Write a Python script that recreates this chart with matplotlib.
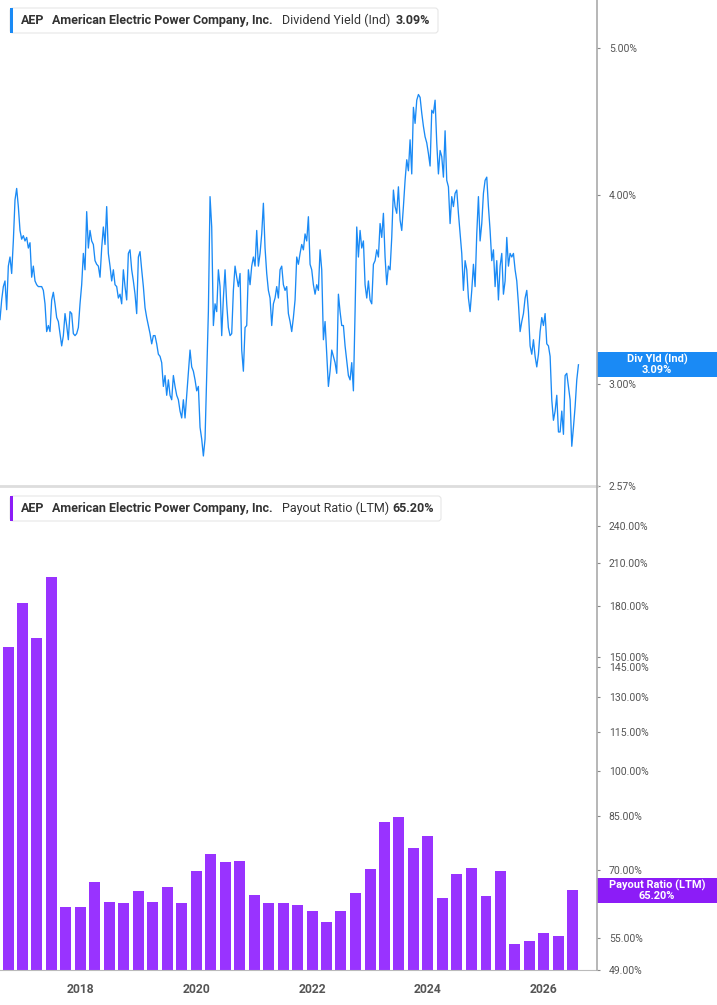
import matplotlib
matplotlib.use('Agg')
import matplotlib.pyplot as plt
from matplotlib import font_manager
from matplotlib.patches import FancyBboxPatch, Rectangle
from matplotlib.lines import Line2D
from matplotlib.ticker import NullLocator
from matplotlib.transforms import IdentityTransform
import numpy as np
import pandas as pd

# dividend yield (%) at roughly 10-day steps
div_yield = [
    3.31, 3.41, 3.48, 3.51, 3.36, 3.59, 3.64, 3.55, 3.73, 3.97,
    4.04, 3.93, 3.79, 3.74, 3.76, 3.73, 3.75, 3.69, 3.72, 3.53,
    3.59, 3.51, 3.49, 3.48, 3.48, 3.48, 3.46, 3.39, 3.25, 3.28,
    3.25, 3.41, 3.45, 3.39, 3.32, 3.30, 3.24, 3.18, 3.23, 3.34,
    3.28, 3.21, 3.35, 3.34, 3.24, 3.23, 3.24, 3.27, 3.39, 3.49,
    3.66, 3.57, 3.90, 3.69, 3.79, 3.73, 3.71, 3.62, 3.60, 3.59,
    3.53, 3.69, 3.81, 3.71, 3.93, 3.66, 3.59, 3.51, 3.57, 3.49,
    3.48, 3.42, 3.44, 3.39, 3.57, 3.48, 3.41, 3.66, 3.68, 3.57,
    3.51, 3.44, 3.34, 3.64, 3.67, 3.57, 3.48, 3.37, 3.32, 3.28,
    3.24, 3.19, 3.23, 3.23, 3.19, 3.14, 3.13, 3.10, 2.99, 3.04,
    2.95, 3.02, 2.95, 2.93, 3.04, 2.99, 2.95, 2.93, 2.88, 2.85,
    2.93, 2.85, 2.95, 3.06, 3.16, 3.08, 3.06, 3.02, 2.97, 2.99,
    2.81,
    2.76, 2.69, 2.76, 3.04, 3.35, 3.99, 3.81, 3.28, 3.39, 3.35,
    3.57, 3.48, 3.23, 3.42, 3.57, 3.39, 3.27, 3.23, 3.24, 3.46,
    3.59, 3.53, 3.48, 3.55, 3.16, 3.06, 3.27, 3.28, 3.57, 3.49,
    3.59, 3.64, 3.59, 3.79, 3.59, 3.66, 3.77, 3.95, 3.69, 3.55,
    3.46, 3.42, 3.28, 3.39, 3.42, 3.48, 3.42, 3.57, 3.59, 3.49,
    3.46, 3.48, 3.34, 3.30, 3.25, 3.32, 3.41, 3.64, 3.60, 3.66,
    3.71, 3.68, 3.77, 3.73, 3.87, 3.60, 3.57, 3.49, 3.44, 3.49,
    3.46, 3.68, 3.57, 3.21, 3.30, 3.14, 2.99, 3.06, 3.16, 3.13,
    3.10, 3.05, 3.44, 3.35, 3.28, 3.28, 3.18, 3.11, 3.04, 3.02,
    3.10, 2.97, 3.35, 3.81, 3.64, 3.79, 3.69, 3.73, 3.49, 3.42,
    3.51, 3.41, 3.39, 3.60, 3.62, 3.68, 3.64, 3.83, 3.75, 3.89,
    3.64, 3.49, 3.59, 3.57,
    3.75, 4.03, 3.93, 3.89, 4.05, 3.85, 3.79, 3.93, 4.09, 4.22,
    4.15, 4.35, 4.13, 4.57, 4.46, 4.62, 4.66, 4.64, 4.53, 4.44,
    4.37, 4.33, 4.26, 4.18, 4.55, 4.53, 4.62, 4.33, 4.13, 4.28,
    4.24, 4.11, 4.41, 4.09, 4.05, 3.83, 3.99, 3.93, 4.01, 4.03,
    3.89, 3.77, 3.66, 3.46, 3.62, 3.57, 3.42, 3.35, 3.46, 3.60,
    3.48, 3.77, 3.99, 3.73, 3.83, 4.01, 4.09, 4.11, 3.93, 3.79,
    3.62, 3.68, 3.48, 3.62, 3.41, 3.59, 3.66, 3.44, 3.51, 3.75,
    3.59, 3.66, 3.64, 3.66, 3.57, 3.51, 3.39, 3.25, 3.30, 3.34,
    3.42, 3.46, 3.35, 3.18, 3.14, 3.21, 3.13, 3.08, 3.14, 3.25,
    3.32, 3.28, 3.34, 3.19, 3.18, 3.13, 2.93, 2.84, 2.88, 2.95,
    2.79, 2.79, 2.88, 2.78, 3.04, 3.05, 2.99, 2.93, 2.73, 2.81,
    2.90, 3.02, 3.09,
]

# quarterly payout ratio (LTM, %)
payout_ratio = [
    155.5, 182.3, 161.0, 199.8, 61.5, 61.4, 67.1, 62.4, 62.3, 64.9,
    62.4, 65.9, 62.2, 69.8, 74.2, 72.1, 72.4, 64.1, 62.3, 62.3,
    61.9, 60.5, 58.2, 60.6, 64.6, 70.4, 83.3, 84.8, 75.8, 79.2,
    63.4, 69.2, 70.6, 63.9, 69.8, 53.7, 54.3, 55.9, 55.3, 65.2,
]

yield_ticks = [2.57, 3.00, 4.00, 5.00]
payout_ticks = [49, 55, 70, 85, 100, 115, 130, 145, 150, 180, 210, 240]
year_ticks = [2018, 2020, 2022, 2024, 2026]

yield_dates = pd.date_range('2016-08-11', '2026-08-07', periods=len(div_yield))
payout_dates = pd.date_range('2016-10-01', periods=len(payout_ratio), freq='QS')

blue = '#1a8af5'
purple = '#9933ff'
purple_dark = '#8c1cf7'
grey_txt = '#555555'

names = {f.name for f in font_manager.fontManager.ttflist}
narrow = 'Liberation Sans Narrow' if 'Liberation Sans Narrow' in names else 'Roboto'
plt.rcParams['font.family'] = ['Roboto', 'DejaVu Sans']

W, H = 717, 1005
fig = plt.figure(figsize=(W / 100, H / 100), dpi=100)


def rect(l, t, r, b):
    return [l / W, 1 - b / H, (r - l) / W, (b - t) / H]


ax1 = fig.add_axes(rect(0, 0, 597, 486))
ax2 = fig.add_axes(rect(0, 490, 597, 970))

xmin, xmax = pd.Timestamp('2016-08-11'), pd.Timestamp('2026-12-02')

# top: dividend yield line
ax1.plot(yield_dates, div_yield, color=blue, lw=0.95)
ax1.set_yscale('log')
ax1.set_ylim(2.57, 5.38)
ax1.set_xlim(xmin, xmax)

# bottom: payout ratio bars
ax2.bar(payout_dates, np.array(payout_ratio) - 49, bottom=49, width=69,
        color=purple, linewidth=0)
ax2.set_yscale('log')
ax2.set_ylim(49, 273)
ax2.set_xlim(xmin, xmax)

for ax, ticks in ((ax1, yield_ticks), (ax2, payout_ticks)):
    ax.yaxis.tick_right()
    ax.yaxis.set_minor_locator(NullLocator())
    ax.set_yticks(ticks)
    ax.set_yticklabels([f'{t:.2f}%' for t in ticks])
    ax.tick_params(axis='y', length=2.5, width=0.8, color='#888888',
                   labelsize=7.5, labelcolor=grey_txt, pad=6)
    for s in ('left', 'top', 'right'):
        ax.spines[s].set_visible(False)
    ax.set_facecolor('none')

ax1.spines['bottom'].set_color('#dddddd')
ax1.spines['bottom'].set_linewidth(2)
ax1.set_xticks([])
ax2.spines['bottom'].set_color('#bbbbbb')
ax2.set_xticks([pd.Timestamp(f'{y}-01-01') for y in year_ticks])
ax2.set_xticklabels([str(y) for y in year_ticks], fontweight='bold')
ax2.tick_params(axis='x', length=0, pad=9, labelsize=8.7, labelcolor=grey_txt)

# vertical axis line across both panels
fig.add_artist(Line2D([597, 597], [H - 970, H], transform=IdentityTransform(),
                      color='#aaaaaa', lw=1.2))

# value boxes on the right
for ax, val, colour, label in ((ax1, div_yield[-1], blue, 'Div Yld (Ind)'),
                               (ax2, payout_ratio[-1], purple_dark, 'Payout Ratio (LTM)')):
    yc = ax.transData.transform((0, val))[1]
    fig.add_artist(Rectangle((597, yc - 12.5), 120, 25, transform=IdentityTransform(),
                             facecolor=colour, edgecolor='none'))
    fig.text(657, yc, f'{label}\n{val:.2f}%', transform=IdentityTransform(),
             ha='center', va='center', color='white', fontsize=7.9,
             fontweight='bold', linespacing=1.0)


# header boxes
def header(top, width, colour, metric, value):
    fig.add_artist(FancyBboxPatch((10, H - top - 25), width, 25,
                                  boxstyle='round,pad=0,rounding_size=3',
                                  transform=IdentityTransform(),
                                  facecolor='white', edgecolor='#e6e6e6', lw=0.8))
    fig.add_artist(Rectangle((10, H - top - 25), 3, 25, transform=IdentityTransform(),
                             facecolor=colour, edgecolor='none'))
    yc = H - top - 12.5
    kw = dict(transform=IdentityTransform(), va='center', ha='left',
              fontsize=9, color='#333333', family=narrow)
    fig.text(20.6, yc, 'AEP', fontweight='bold', **kw)
    fig.text(51.7, yc, 'American Electric Power Company, Inc.', fontweight='bold', **kw)
    fig.text(281.7, yc, metric, **kw)
    fig.text(value[0], yc, value[1], fontweight='bold', **kw)


header(8, 428, blue, 'Dividend Yield (Ind)', (396, f'{div_yield[-1]:.2f}%'))
header(496, 431, purple_dark, 'Payout Ratio (LTM)', (392.3, f'{payout_ratio[-1]:.2f}%'))

fig.savefig('out.png', dpi=100, facecolor='white')
